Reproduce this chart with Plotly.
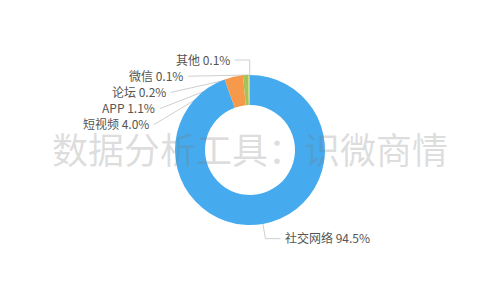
import math
import plotly.graph_objects as go

# ---- data ----
labels = ["社交网络", "短视频", "APP", "论坛", "微信", "其他"]
values = [94.5, 4.0, 1.1, 0.2, 0.1, 0.1]
colors = ["#46abee", "#f7994b", "#a5c35b", "#c8d86e", "#7ea6e0", "#5fcfc2"]
watermark = "数据分析工具：识微商情"

# ---- layout geometry (pixels) ----
W, H = 500, 300
cx, cy, r = 250.0, 150.0, 75.0
HOLE = 0.6
LEN1, LEN2, DIST, LH = 15.0, 15.0, 5.0, 16.2

total = sum(values)
items = []
cum = 0.0
for lab, v in zip(labels, values):
    mid = (cum + v / 2.0) / total * 2 * math.pi
    cum += v
    sx, sy = math.sin(mid), -math.cos(mid)
    P = (cx + r * sx, cy + r * sy)
    E = (cx + (r + LEN1) * sx, cy + (r + LEN1) * sy)
    d = -1 if sx < 0 else 1
    x3 = E[0] + d * LEN2
    items.append(dict(label=lab, value=v, P=P, E=E, d=d,
                      x=x3 + d * DIST, y=E[1], moved=False))

# label avoidance (push down) per side, then re-align on ellipse
for side in (-1, 1):
    grp = sorted([it for it in items if it["d"] == side], key=lambda t: t["y"])
    any_moved = False
    for i in range(1, len(grp)):
        if grp[i]["y"] < grp[i - 1]["y"] + LH:
            grp[i]["y"] = grp[i - 1]["y"] + LH
            grp[i]["moved"] = True
            any_moved = True
    if any_moved:
        for semi_top in (True, False):
            semi = [it for it in grp if (it["y"] <= cy) == semi_top]
            if not semi:
                continue
            rA = r + LEN1
            far = max(semi, key=lambda t: abs(t["y"] - cy))
            dy = abs(far["y"] - cy)
            dx = far["x"] - cx - LEN2 * side
            rB = math.sqrt(dy * dy / (1 - dx * dx / rA / rA)) if abs(dx) < rA else rA
            for it in semi:
                dyy = abs(it["y"] - cy)
                ddx = math.sqrt(max(0.0, 1 - dyy * dyy / (rB * rB)) * rA * rA)
                it["x"] = cx + (ddx + LEN2) * side

def px(x):
    return x / W

def py(y):
    return 1 - y / H

shapes = []
annotations = []
for it in items:
    d = it["d"]
    T = (it["x"] - d * DIST, it["y"])
    if it["moved"]:
        pts = [it["P"], T]
    else:
        pts = [it["P"], (T[0] - d * LEN2, T[1]), T]
    path = "M " + " L ".join(f"{px(a):.5f},{py(b):.5f}" for a, b in pts)
    shapes.append(dict(type="path", path=path, xref="paper", yref="paper",
                       line=dict(color="#cfcfcf", width=1), layer="below"))
    annotations.append(dict(
        text=f"{it['label']} {it['value']:.1f}%",
        x=px(it["x"]), y=py(it["y"] - 1), xref="paper", yref="paper",
        xanchor="right" if d < 0 else "left", yanchor="middle",
        showarrow=False, borderpad=0, borderwidth=0,
        font=dict(family="Noto Sans CJK SC", size=12, color="#555555")))

annotations.append(dict(
    text=watermark, x=px(cx), y=py(148), xref="paper", yref="paper",
    xanchor="center", yanchor="middle", showarrow=False,
    font=dict(family="Noto Sans CJK SC", size=36, color="rgba(120,120,120,0.25)")))

fig = go.Figure(go.Pie(
    labels=labels, values=values, sort=False, direction="clockwise", rotation=0,
    hole=HOLE, textinfo="none", marker=dict(colors=colors, line=dict(width=0)),
    domain=dict(x=[0, 1], y=[0.25, 0.75]), showlegend=False, hoverinfo="label+percent"))

fig.update_layout(width=W, height=H, margin=dict(l=0, r=0, t=0, b=0),
                  paper_bgcolor="white", plot_bgcolor="white",
                  shapes=shapes, annotations=annotations)
fig.write_html("out.html")
